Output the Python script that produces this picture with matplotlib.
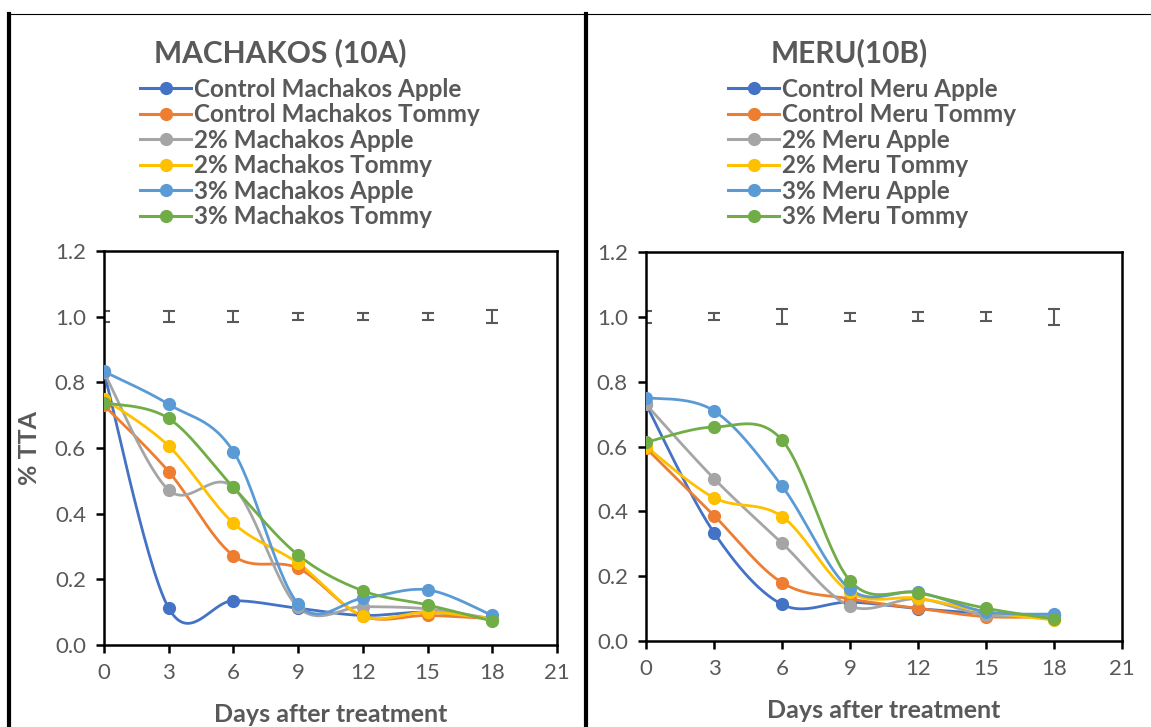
import numpy as np
import matplotlib.pyplot as plt
from matplotlib.lines import Line2D

plt.rcParams['font.family'] = ['Lato', 'DejaVu Sans']

days = [0, 3, 6, 9, 12, 15, 18]

# % TTA, Machakos
mach_ctrl_apple = [0.83, 0.112, 0.135, 0.112, 0.09, 0.10, 0.08]
mach_ctrl_tommy = [0.73, 0.528, 0.272, 0.234, 0.088, 0.09, 0.08]
mach_2_apple = [0.83, 0.472, 0.48, 0.115, 0.117, 0.11, 0.08]
mach_2_tommy = [0.75, 0.606, 0.371, 0.249, 0.089, 0.10, 0.08]
mach_3_apple = [0.833, 0.733, 0.589, 0.125, 0.142, 0.168, 0.09]
mach_3_tommy = [0.738, 0.69, 0.48, 0.274, 0.165, 0.122, 0.073]

# % TTA, Meru
meru_ctrl_apple = [0.73, 0.334, 0.113, 0.12, 0.10, 0.085, 0.08]
meru_ctrl_tommy = [0.595, 0.387, 0.18, 0.13, 0.101, 0.075, 0.075]
meru_2_apple = [0.73, 0.501, 0.302, 0.108, 0.13, 0.08, 0.08]
meru_2_tommy = [0.60, 0.442, 0.384, 0.15, 0.132, 0.09, 0.065]
meru_3_apple = [0.751, 0.71, 0.478, 0.16, 0.15, 0.09, 0.083]
meru_3_tommy = [0.613, 0.66, 0.62, 0.186, 0.149, 0.101, 0.068]

# separate error-bar series plotted at the 1.0 level
err_level = [1.0, 1.0, 1.0, 1.0, 1.0, 1.0, 1.0]
mach_err = [0.016, 0.016, 0.016, 0.011, 0.01, 0.01, 0.02]
meru_err = [0.018, 0.011, 0.023, 0.013, 0.014, 0.014, 0.024]

colors = ['#4472C4', '#ED7D31', '#A5A5A5', '#FFC000', '#5B9BD5', '#70AD47']
text_col = '#595959'


def smooth(x, y, n=30):
    # Bezier smoothing through the points (same idea as spreadsheet "smoothed line")
    p = np.column_stack([x, y]).astype(float)
    out = [p[0]]
    t = np.linspace(0, 1, n)[1:, None]
    for i in range(len(p) - 1):
        p0 = p[i - 1] if i > 0 else p[i]
        p3 = p[i + 2] if i + 2 < len(p) else p[i + 1]
        c1 = p[i] + (p[i + 1] - p0) / 6
        c2 = p[i + 1] - (p3 - p[i]) / 6
        seg = ((1 - t) ** 3 * p[i] + 3 * (1 - t) ** 2 * t * c1
               + 3 * (1 - t) * t ** 2 * c2 + t ** 3 * p[i + 1])
        out.extend(seg)
    out = np.array(out)
    return out[:, 0], out[:, 1]


def draw_panel(ax, series, names, errs, title, title_x, leg_x):
    for y, name, c in zip(series, names, colors):
        sx, sy = smooth(days, y)
        ax.plot(sx, sy, color=c, lw=2.0, zorder=3)
        ax.plot(days, y, 'o', color=c, ms=8.5, zorder=4)
    ax.errorbar(days, err_level, yerr=errs, fmt='none', ecolor=text_col,
                elinewidth=1.5, capsize=4, capthick=1.5, zorder=2)

    ax.set_xlim(0, 21)
    ax.set_ylim(0, 1.2)
    ax.set_xticks(range(0, 22, 3))
    ax.set_yticks(np.arange(0, 1.21, 0.2))
    ax.yaxis.set_major_formatter(plt.FormatStrFormatter('%.1f'))
    ax.tick_params(direction='out', length=6, width=1.8, colors='black',
                   labelcolor=text_col, labelsize=16, pad=7)
    for s in ax.spines.values():
        s.set_linewidth(1.8)
        s.set_color('black')
    ax.set_xlabel('Days after treatment', fontsize=18, fontweight='bold',
                  color=text_col, labelpad=14)

    handles = [Line2D([], [], color=c, lw=2.2, marker='o', ms=8.5) for c in colors]
    fig.legend(handles, names, loc='upper left',
               bbox_to_anchor=(leg_x / 1151, 1 - 78 / 727), frameon=False,
               prop={'weight': 'bold', 'size': 17.5},
               labelcolor=text_col, handlelength=2.1, handletextpad=0.12,
               labelspacing=0.1, borderpad=0, borderaxespad=0)
    fig.text(title_x / 1151, 1 - 62 / 727, title, ha='center', va='baseline',
             fontsize=21.5, fontweight='bold', color=text_col)


fig = plt.figure(figsize=(11.51, 7.27), dpi=100)
ax1 = fig.add_axes([104 / 1151, 1 - 645 / 727, 453 / 1151, 394 / 727])
ax2 = fig.add_axes([646 / 1151, 1 - 641 / 727, 476 / 1151, 389 / 727])

mach = [mach_ctrl_apple, mach_ctrl_tommy, mach_2_apple, mach_2_tommy, mach_3_apple, mach_3_tommy]
meru = [meru_ctrl_apple, meru_ctrl_tommy, meru_2_apple, meru_2_tommy, meru_3_apple, meru_3_tommy]
mach_names = ['Control Machakos Apple', 'Control Machakos Tommy', '2% Machakos Apple',
              '2% Machakos Tommy', '3% Machakos Apple', '3% Machakos Tommy']
meru_names = ['Control Meru Apple', 'Control Meru Tommy', '2% Meru Apple',
              '2% Meru Tommy', '3% Meru Apple', '3% Meru Tommy']

draw_panel(ax1, mach, mach_names, mach_err, 'MACHAKOS (10A)', 280, 140)
draw_panel(ax2, meru, meru_names, meru_err, 'MERU(10B)', 849, 728)
ax1.set_ylabel('% TTA', fontsize=18, fontweight='bold', color=text_col, labelpad=10)

# chart frames
fig.add_artist(Line2D([9 / 1151, 9 / 1151], [0, 1 - 14 / 727], color='black', lw=3))
fig.add_artist(Line2D([586 / 1151, 586 / 1151], [0, 1 - 14 / 727], color='black', lw=3))
fig.add_artist(Line2D([9 / 1151, 1], [1 - 14 / 727, 1 - 14 / 727], color='black', lw=0.8))

fig.savefig('out.png', dpi=100)
